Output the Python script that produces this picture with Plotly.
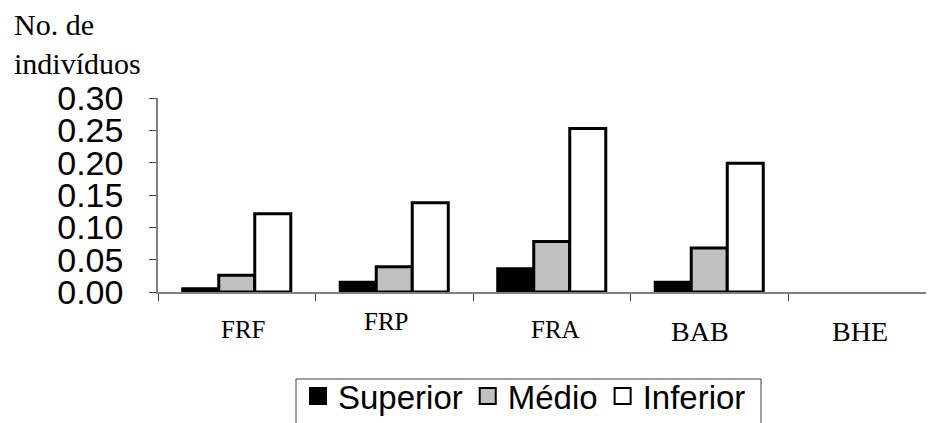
import plotly.graph_objects as go

categories = ["FRF", "FRP", "FRA", "BAB", "BHE"]
series_names = ["Superior", "Médio", "Inferior"]
superior = [0.005, 0.015, 0.036, 0.015, 0.0]
medio = [0.026, 0.039, 0.078, 0.068, 0.0]
inferior = [0.121, 0.138, 0.253, 0.199, 0.0]
y_ticks = [0.00, 0.05, 0.10, 0.15, 0.20, 0.25, 0.30]
y_title = "No. de<br>indivíduos"

colors = ["#000000", "#C0C0C0", "#FFFFFF"]
values = [superior, medio, inferior]

# label styling per category (hand-placed in original)
label_sizes = [25, 25, 25, 28, 28]
label_xshift = [6, -8, 4, -9, -7]
label_yshift = [-22, -14, -22, -22, -22]

OFF = 8  # page body margin
W, H = 934 - OFF, 423 - OFF
L = 158 - OFF
T = 98 - OFF
B = H - (292 - OFF)
R = 0
cat_px = 157.5
plot_w = W - L - R
plot_h = H - T - B
x_max = -0.5 + plot_w / cat_px


def px_x(x):  # reference pixel -> paper x
    return (x - OFF - L) / plot_w


def px_y(y):  # reference pixel -> paper y
    return ((H - B) - (y - OFF)) / plot_h


fig = go.Figure()
for name, vals, col in zip(series_names, values, colors):
    fig.add_trace(go.Bar(
        x=categories, y=vals, name=name, showlegend=False,
        marker=dict(color=col,
                    line=dict(color="#000000",
                              width=[3 if v > 0 else 0 for v in vals])),
    ))
# legend entries (larger square symbols)
for name, col in zip(series_names, colors):
    fig.add_trace(go.Scatter(
        x=[None], y=[None], mode="markers", name=name,
        marker=dict(symbol="square", size=22, color=col,
                    line=dict(color="#000000", width=2)),
    ))

annotations = []
for c, s, xs, ys in zip(categories, label_sizes, label_xshift, label_yshift):
    annotations.append(dict(
        x=c, xref="x", y=0, yref="paper", yanchor="top", xanchor="center",
        xshift=xs, yshift=ys, text=c, showarrow=False,
        font=dict(family="Liberation Serif", size=s, color="#000000"),
    ))
annotations.append(dict(
    x=px_x(12), xref="paper", y=px_y(6), yref="paper",
    xanchor="left", yanchor="top", align="left", text=y_title, showarrow=False,
    font=dict(family="Liberation Serif", size=30, color="#000000"),
))

fig.update_layout(
    width=W, height=H,
    margin=dict(l=L, r=R, t=T, b=B, autoexpand=False),
    paper_bgcolor="white", plot_bgcolor="white",
    barmode="group", bargap=0.314, bargroupgap=0,
    font=dict(family="Liberation Sans", color="#000000"),
    xaxis=dict(
        type="category", range=[-0.5, x_max],
        showline=True, linecolor="#808080", linewidth=1.5,
        ticks="outside", tickson="boundaries", ticklen=7, tickcolor="#404040",
        showticklabels=False, showgrid=False, zeroline=False,
    ),
    yaxis=dict(
        range=[0, 0.30], tickvals=y_ticks, tickformat=".2f",
        showline=True, linecolor="#808080", linewidth=1.5,
        ticks="outside", ticklen=7, tickcolor="#404040",
        tickfont=dict(family="Liberation Sans", size=34, color="#000000"),
        ticklabelstandoff=19,
        showgrid=False, zeroline=False,
    ),
    legend=dict(
        orientation="h", x=px_x(298), xanchor="left",
        y=px_y(368), yanchor="top",
        borderwidth=0, bgcolor="rgba(0,0,0,0)",
        font=dict(family="Liberation Sans", size=33, color="#000000"),
        itemsizing="trace",
    ),
    shapes=[dict(
        type="rect", xref="paper", yref="paper",
        x0=px_x(296), x1=px_x(761), y0=px_y(379), y1=px_y(440),
        line=dict(color="#404040", width=1), fillcolor="rgba(0,0,0,0)",
        layer="below",
    )],
    annotations=annotations,
)

fig.write_html("out.html")
